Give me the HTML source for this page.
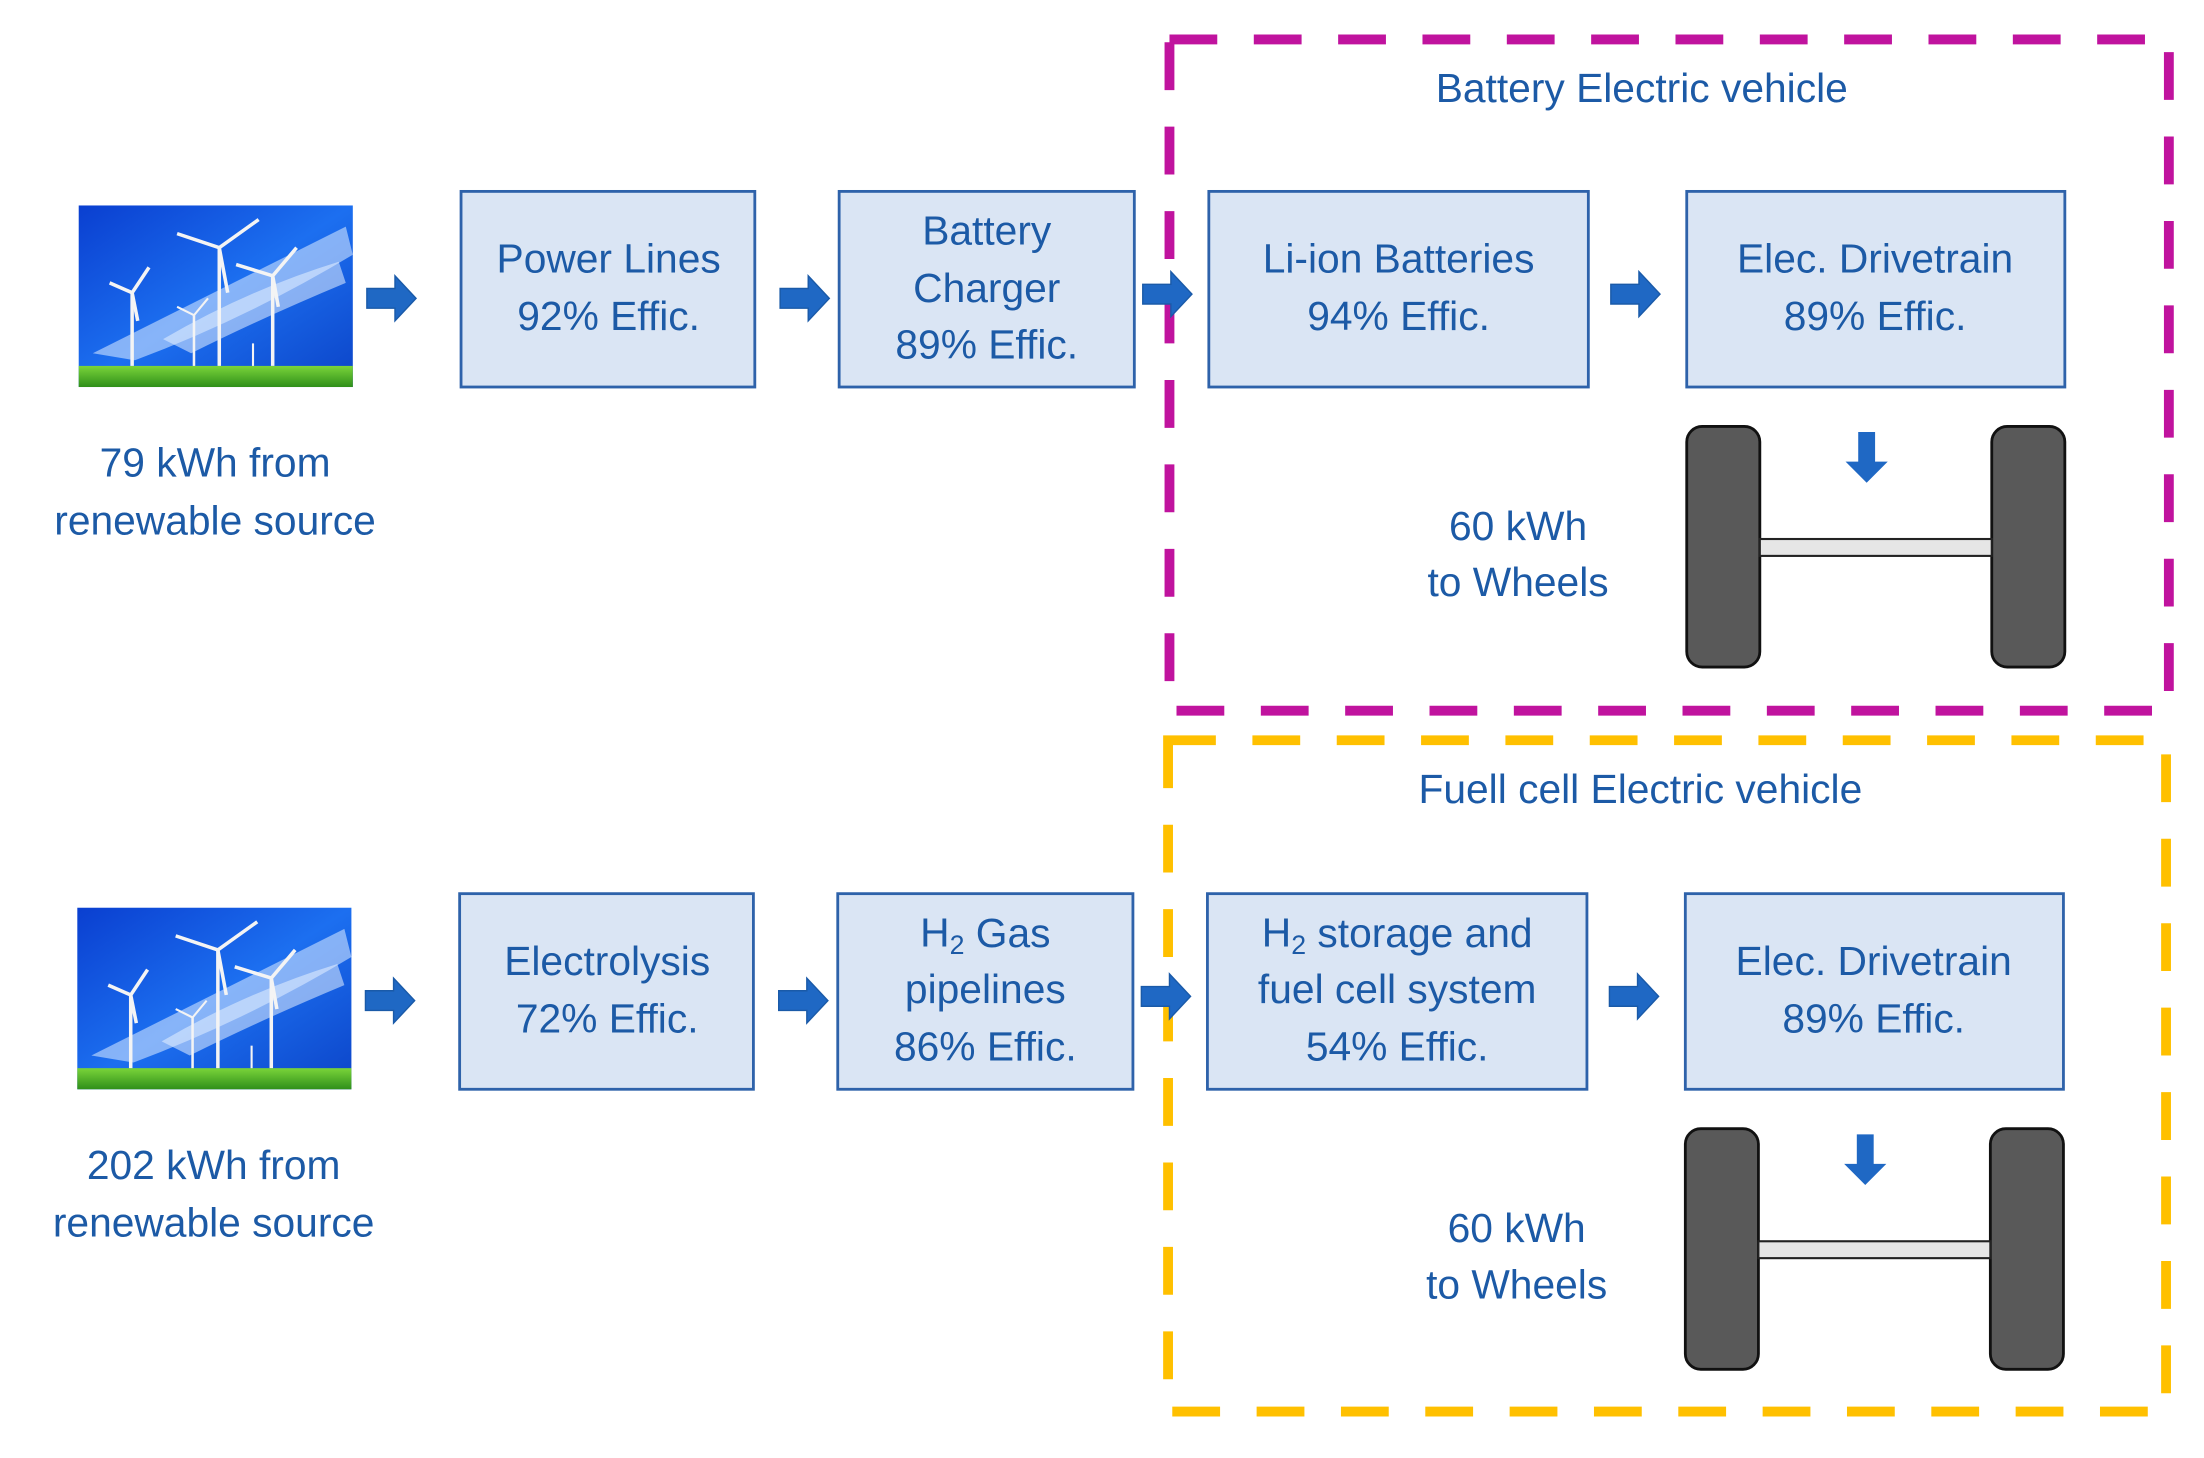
<!DOCTYPE html>
<html><head><meta charset="utf-8"><style>
html,body{margin:0;padding:0;background:#fff;}
svg{display:block;}
text{font-family:"Liberation Sans",sans-serif;fill:#1c5aa6;font-size:29px;text-anchor:middle;dominant-baseline:middle;}
</style></head><body>
<svg width="2204" height="1458" viewBox="0 0 1568 1036" preserveAspectRatio="none" xmlns="http://www.w3.org/2000/svg">
<defs>
<linearGradient id="sky" x1="0" y1="0" x2="1" y2="1">
<stop offset="0" stop-color="#0a3fd0"/><stop offset="0.5" stop-color="#1c6ff0"/><stop offset="1" stop-color="#0c44c8"/></linearGradient>
<linearGradient id="grass" x1="0" y1="0" x2="0" y2="1"><stop offset="0" stop-color="#7ad43a"/><stop offset="1" stop-color="#2f8f1a"/></linearGradient>
<g id="pic">
<rect x="0" y="0" width="195" height="129" fill="url(#sky)"/>
<path d="M10 105 Q80 70 190 15 L195 35 Q120 80 40 110 Z" fill="#cfe3ff" opacity="0.6"/>
<path d="M60 95 Q120 60 185 40 L190 55 Q130 80 80 105 Z" fill="#e6f0ff" opacity="0.55"/>
<rect x="0" y="114" width="195" height="15" fill="url(#grass)"/>
<g stroke="#f4f4f4" stroke-width="2.5" fill="none">
<line x1="100" y1="30" x2="100" y2="114"/><line x1="100" y1="30" x2="70" y2="20"/><line x1="100" y1="30" x2="128" y2="10"/><line x1="100" y1="30" x2="106" y2="62"/>
<line x1="138" y1="50" x2="138" y2="114"/><line x1="138" y1="50" x2="112" y2="42"/><line x1="138" y1="50" x2="155" y2="30"/><line x1="138" y1="50" x2="142" y2="72"/>
<line x1="38" y1="62" x2="38" y2="114"/><line x1="38" y1="62" x2="22" y2="55"/><line x1="38" y1="62" x2="50" y2="44"/><line x1="38" y1="62" x2="42" y2="82"/>
<line x1="82" y1="78" x2="82" y2="114" stroke-width="1.8"/><line x1="82" y1="78" x2="70" y2="72" stroke-width="1.5"/><line x1="82" y1="78" x2="92" y2="66" stroke-width="1.5"/>
<line x1="124" y1="98" x2="124" y2="114" stroke-width="1.5"/>
</g></g>
<path id="ra" d="M0 -7 H20 V-16 L35 0 L20 16 V7 H0 Z" fill="#1f68c4" stroke="#1a5aa8" stroke-width="1"/>
<path id="da" d="M-6 0 H6 V21 H15 L0 36 L-15 21 H-6 Z" fill="#1f68c4"/>
<g id="wheels">
<rect x="0" y="0" width="52" height="171" rx="11" fill="#595959" stroke="#111" stroke-width="2"/>
<rect x="217" y="0" width="52" height="171" rx="11" fill="#595959" stroke="#111" stroke-width="2"/>
<rect x="52" y="80" width="165" height="12" fill="#e6e6e6" stroke="#222" stroke-width="1.5"/>
</g>
</defs>

<rect x="832" y="28" width="711" height="477" fill="none" stroke="#c0139e" stroke-width="7" stroke-dasharray="34 26"/>
<rect x="831" y="526" width="710" height="477" fill="none" stroke="#ffc000" stroke-width="7" stroke-dasharray="34 26"/>

<text x="1168" y="65">Battery Electric vehicle</text>
<text x="1167" y="563">Fuell cell Electric vehicle</text>

<use href="#pic" x="56" y="146"/>
<text x="153" y="331">79 kWh from</text>
<text x="153" y="372">renewable source</text>
<g fill="#dae5f4" stroke="#2e62aa" stroke-width="2">
<rect x="328" y="136" width="209" height="139"/>
<rect x="597" y="136" width="210" height="139"/>
<rect x="860" y="136" width="270" height="139"/>
<rect x="1200" y="136" width="269" height="139"/>
<rect x="327" y="635" width="209" height="139"/>
<rect x="596" y="635" width="210" height="139"/>
<rect x="859" y="635" width="270" height="139"/>
<rect x="1199" y="635" width="269" height="139"/>
</g>
<text x="433" y="186">Power Lines</text><text x="433" y="227">92% Effic.</text>
<text x="702" y="166">Battery</text><text x="702" y="207">Charger</text><text x="702" y="247">89% Effic.</text>
<text x="995" y="186">Li-ion Batteries</text><text x="995" y="227">94% Effic.</text>
<text x="1334" y="186">Elec. Drivetrain</text><text x="1334" y="227">89% Effic.</text>
<use href="#ra" x="261" y="212"/><use href="#ra" x="555" y="212"/><use href="#ra" x="813" y="209"/><use href="#ra" x="1146" y="209"/>
<use href="#wheels" x="1200" y="303"/>
<use href="#da" x="1328" y="307"/>
<text x="1080" y="376">60 kWh</text><text x="1080" y="416">to Wheels</text>

<use href="#pic" x="55" y="645"/>
<text x="152" y="830">202 kWh from</text>
<text x="152" y="871">renewable source</text>
<text x="432" y="685">Electrolysis</text><text x="432" y="726">72% Effic.</text>
<text x="701" y="665">H<tspan font-size="19" dy="8">2</tspan><tspan dy="-8"> Gas</tspan></text>
<text x="701" y="705">pipelines</text><text x="701" y="746">86% Effic.</text>
<text x="994" y="665">H<tspan font-size="19" dy="8">2</tspan><tspan dy="-8"> storage and</tspan></text>
<text x="994" y="705">fuel cell system</text><text x="994" y="746">54% Effic.</text>
<text x="1333" y="685">Elec. Drivetrain</text><text x="1333" y="726">89% Effic.</text>
<use href="#ra" x="260" y="711"/><use href="#ra" x="554" y="711"/><use href="#ra" x="812" y="708"/><use href="#ra" x="1145" y="708"/>
<use href="#wheels" x="1199" y="802"/>
<use href="#da" x="1327" y="806"/>
<text x="1079" y="875">60 kWh</text><text x="1079" y="915">to Wheels</text>
</svg>
</body></html>
